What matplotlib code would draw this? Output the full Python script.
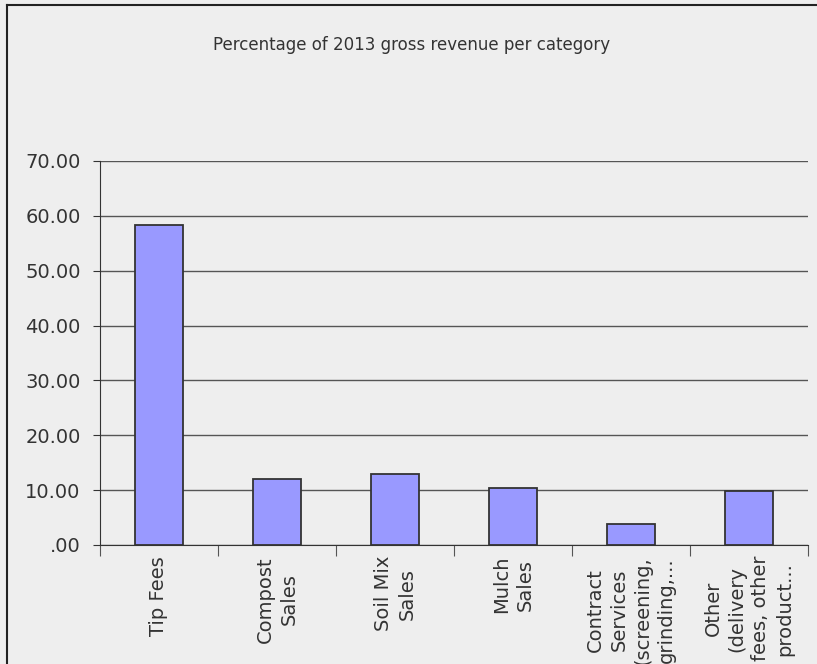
import matplotlib
matplotlib.use("Agg")
import matplotlib.pyplot as plt
from matplotlib.lines import Line2D

# data
categories = [
	"Tip Fees",
	"Compost\nSales",
	"Soil Mix\nSales",
	"Mulch\nSales",
	"Contract\nServices\n(screening,\ngrinding,...",
	"Other\n(delivery\nfees, other\nproduct...",
]
percentages = [58.4, 12.1, 12.9, 10.3, 3.8, 9.9]
y_ticks = [0, 10, 20, 30, 40, 50, 60, 70]
y_tick_labels = [".00", "10.00", "20.00", "30.00", "40.00", "50.00", "60.00", "70.00"]

BG = "#eeeeee"
TEXT = "#333333"

plt.rcParams['font.family'] = ['DejaVu Sans']

fig = plt.figure(figsize=(8.17, 6.64), dpi=100, facecolor=BG)
# outer frame of the chart area (left and top only are visible)
fig.lines.append(Line2D([7/817, 7/817], [0, 1 - 5/664], transform=fig.transFigure,
	color="#222222", linewidth=1.5))
fig.lines.append(Line2D([7/817, 1], [1 - 5/664, 1 - 5/664], transform=fig.transFigure,
	color="#222222", linewidth=1.5))

ax = fig.add_axes([100/817, 1 - 545/664, 708/817, (545 - 161)/664])
ax.set_facecolor(BG)

x = list(range(len(categories)))
ax.bar(x, percentages, width=0.4, color="#9999ff", edgecolor="#333333", linewidth=1.3, zorder=3)

ax.set_xlim(-0.5, len(categories) - 0.5)
ax.set_ylim(0, 70)
ax.set_yticks(y_ticks)
ax.set_yticklabels(y_tick_labels, fontsize=14, color=TEXT)
ax.yaxis.grid(True, color="#555555", linewidth=1.0, zorder=0)
ax.tick_params(axis="y", length=5, color="#333333", pad=9)

# category boundary ticks
ax.set_xticks([i - 0.5 for i in range(len(categories) + 1)])
ax.set_xticklabels([])
ax.tick_params(axis="x", length=8, color="#555555", direction="out")

for i, lab in enumerate(categories):
	ax.text(i, -2.0, lab, rotation=90, ha="center", va="top", multialignment="center",
		fontsize=14, color=TEXT, linespacing=1.3)

for side in ["top", "right"]:
	ax.spines[side].set_visible(False)
ax.spines["left"].set_color("#333333")
ax.spines["bottom"].set_color("#333333")

fig.text(412/817, 1 - 45/664, "Percentage of 2013 gross revenue per category",
	ha="center", va="center", fontsize=12, color=TEXT)

fig.savefig("out.png", dpi=100, facecolor=BG)
